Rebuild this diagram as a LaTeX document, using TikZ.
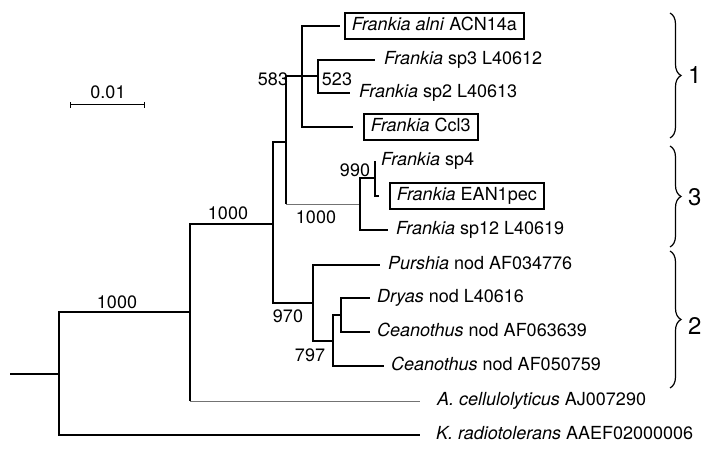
\documentclass[tikz,border=0pt]{standalone}
\usepackage{fontspec}
\setmainfont{TeX Gyre Heros}
\usepackage{tikz}
\usetikzlibrary{positioning,decorations.pathreplacing,arrows.meta}
\tikzset{
  branch/.style={line width=1.3pt},
  faint/.style={line width=0.9pt,color=black!55},
  taxon/.style={inner sep=0pt,anchor=west,text height=13pt,text depth=3.5pt},
  boxtaxon/.style={draw,line width=1.6pt,inner xsep=7pt,inner ysep=5pt,
                   text height=13pt,text depth=3.5pt,anchor=west},
  support/.style={inner sep=0pt},
  cladebrace/.style={decorate,decoration={brace,amplitude=11pt},line width=1.2pt},
  cladenum/.style={font=\fontsize{24}{26}\selectfont,anchor=west,inner sep=0pt}
}
\newcommand{\gen}[1]{\textit{#1}}

\begin{document}
\begin{tikzpicture}[x=1pt,y=-1pt,font=\fontsize{18}{20}\selectfont]
  \useasboundingbox (0,0) rectangle (712,449);
  % internal nodes
  \coordinate (r0)   at (10,374);
  \coordinate (nR)   at (59,374);
  \coordinate (n1)   at (190,312);
  \coordinate (n2)   at (273,224);
  \coordinate (n3)   at (286,142);
  \coordinate (n583) at (302,76);
  \coordinate (n583t) at (302,51);
  \coordinate (n523) at (318,76);
  \coordinate (nB)   at (360,204);
  \coordinate (n990) at (375,178);
  \coordinate (n970) at (313,303);
  \coordinate (n797) at (333,341);
  \coordinate (nD)   at (341,315);
  % tips
  \coordinate (tACN) at (340,26);
  \coordinate (tsp3) at (375,60);
  \coordinate (tsp2) at (350,93);
  \coordinate (tCcl) at (353,127);
  \coordinate (tsp4) at (375,161);
  \coordinate (tEAN) at (379,196);
  \coordinate (tsp12) at (388,230);
  \coordinate (tPur) at (380,265);
  \coordinate (tDry) at (370,298);
  \coordinate (tCe1) at (370,332);
  \coordinate (tCe2) at (384,366);
  \coordinate (tAce) at (420,401);
  \coordinate (tKra) at (420,435);

  % branches
  \draw[branch] (r0) -- (nR);
  \draw[branch] (nR) |- (n1);
  \draw[branch] (nR) |- (tKra);
  \draw[branch] (n1) |- (n2);
  \draw[branch] (n1) -- (n1 |- tAce);
  \draw[faint] (n1 |- tAce) -- (tAce);
  \draw[branch] (n2) |- (n3);
  \draw[branch] (n2) |- (n970);
  \draw[branch] (n3) |- (n583);
  \draw[branch] (n3) -- (n3 |- nB);
  \draw[faint] (n3 |- nB) -- (nB);
  \draw[branch] (n583) |- (tACN);
  \draw[branch] (n583) |- (tCcl);
  \draw[branch] (n583) -- (n523);
  \draw[line width=2.6pt] (n583) -- (n583t);
  \draw[branch] (n523) |- (tsp3);
  \draw[branch] (n523) |- (tsp2);
  \draw[branch] (nB) |- (n990);
  \draw[branch] (nB) |- (tsp12);
  \draw[branch] (n990) |- (tsp4);
  \draw[branch] (n990) |- (tEAN);
  \draw[branch] (n970) |- (tPur);
  \draw[branch] (n970) |- (n797);
  \draw[branch] (n797) |- (nD);
  \draw[branch] (n797) |- (tCe2);
  \draw[branch] (nD) |- (tDry);
  \draw[branch] (nD) |- (tCe1);

  % taxa
  \node[boxtaxon,right=4pt of tACN] (lACN) {\gen{Frankia alni} ACN14a};
  \node[taxon,right=9pt of tsp3] (lsp3) {\gen{Frankia} sp3 L40612};
  \node[taxon,right=9pt of tsp2] (lsp2) {\gen{Frankia} sp2 L40613};
  \node[boxtaxon,right=10pt of tCcl] (lCcl) {\gen{Frankia} Ccl3};
  \node[taxon,right=6pt of tsp4] (lsp4) {\gen{Frankia} sp4};
  \node[boxtaxon,right=10pt of tEAN] (lEAN) {\gen{Frankia} EAN1pec};
  \node[taxon,right=8pt of tsp12] (lsp12) {\gen{Frankia} sp12 L40619};
  \node[taxon,right=8pt of tPur] (lPur) {\gen{Purshia} nod AF034776};
  \node[taxon,right=7pt of tDry] (lDry) {\gen{Dryas} nod L40616};
  \node[taxon,right=7pt of tCe1] (lCe1) {\gen{Ceanothus} nod AF063639};
  \node[taxon,right=7pt of tCe2] (lCe2) {\gen{Ceanothus} nod AF050759};
  \node[taxon,right=17pt of tAce] (lAce) {\gen{A. cellulolyticus} AJ007290};
  \node[taxon,right=16pt of tKra] (lKra) {\gen{K. radiotolerans} AAEF02000006};

  % support values
  \node[support] (s1)   at (117,302) {1000};
  \node[support] (s2)   at (228,213) {1000};
  \node[support] (s583) at (273,79)  {583};
  \node[support] (s523) at (337,79)  {523};
  \node[support] (s990) at (355,170) {990};
  \node[support] (sB)   at (316,217) {1000};
  \node[support] (s970) at (288,316) {970};
  \node[support] (s797) at (310,355) {797};

  % scale bar
  \coordinate (bar0) at (70,105);
  \coordinate (bar1) at (145,105);
  \draw[line width=1pt,{Bar[width=6pt]}-{Bar[width=6pt]}] (bar0) -- (bar1);
  \node[support] (barlab) at (108,92) {0.01};

  % clades
  \coordinate (c1t) at (670,13);  \coordinate (c1b) at (670,138);
  \coordinate (c3t) at (670,146); \coordinate (c3b) at (670,247);
  \coordinate (c2t) at (670,251); \coordinate (c2b) at (670,388);
  \draw[cladebrace] (c1t) -- (c1b);
  \draw[cladebrace] (c3t) -- (c3b);
  \draw[cladebrace] (c2t) -- (c2b);
  \node[cladenum] (k1) at (688,75)  {1};
  \node[cladenum] (k3) at (688,197) {3};
  \node[cladenum] (k2) at (688,326) {2};
\end{tikzpicture}
\end{document}
